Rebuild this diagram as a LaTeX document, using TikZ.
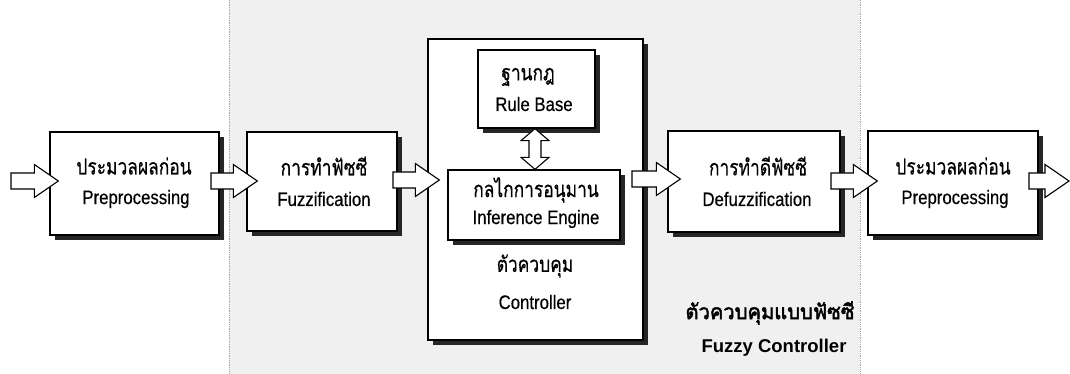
\documentclass[tikz,border=0pt]{standalone}
\usepackage{graphicx}
\usepackage{fontspec}
\setmainfont{Liberation Sans}
\newfontfamily\enf{Liberation Sans}[FakeBold=0.5]
\newfontfamily\thai[Script=Thai,FakeBold=0.5]{Loma}
\newfontfamily\thaib[Script=Thai,FakeBold=2.2]{Loma}
\newfontfamily\enb{Liberation Sans Bold}
\usetikzlibrary{calc,shadows}
\newcommand\thtxt[1]{\scalebox{0.79}[1]{\thai\fontsize{22}{25}\selectfont #1}}
\newcommand\entxt[1]{\scalebox{0.86}[1]{\enf\fontsize{19.5}{22}\selectfont #1}}
\tikzset{
  box/.style={draw=black, line width=1.3pt, fill=white, inner sep=0pt,
    drop shadow={shadow xshift=5pt, shadow yshift=-5pt, fill=black!85, opacity=1}},
  th/.style={inner sep=0pt},
  en/.style={inner sep=0pt},
  blockarrow/.style={draw=black, fill=white, line width=1.1pt, line join=miter,
    to path={let \p1=(\tikztostart), \p2=(\tikztotarget) in
      (\x1,\y1+8pt) -- (\x2-24pt,\y1+8pt) -- (\x2-24pt,\y1+16.5pt) -- (\x2,\y1)
      -- (\x2-24pt,\y1-16.5pt) -- (\x2-24pt,\y1-8pt) -- (\x1,\y1-8pt) -- cycle}},
  dblarrow/.style={draw=black, fill=white, line width=1.1pt, line join=miter,
    to path={let \p1=(\tikztostart), \p2=(\tikztotarget) in
      (\x1,\y1) -- (\x1+14pt,\y1-12pt) -- (\x1+6pt,\y1-12pt) -- (\x1+6pt,\y2+12pt)
      -- (\x1+14pt,\y2+12pt) -- (\x2,\y2) -- (\x1-14pt,\y2+12pt) -- (\x1-6pt,\y2+12pt)
      -- (\x1-6pt,\y1-12pt) -- (\x1-14pt,\y1-12pt) -- cycle}}
}
\begin{document}
\begin{tikzpicture}[x=1pt,y=-1pt]
\useasboundingbox (0,0) rectangle (1070,374);
% stippled background region
\fill[black!6] (229,0) rectangle (860,374);
\draw[black!35, densely dotted, line width=0.8pt] (229,0) -- (229,374);
\draw[black!35, densely dotted, line width=0.8pt] (860,0) -- (860,374);

% boxes
\node[box, minimum width=169pt, minimum height=103pt] (b1) at (134.5,183.5) {};
\node[box, minimum width=150pt, minimum height=99pt] (b2) at (322,181.5) {};
\node[box, minimum width=215pt, minimum height=301pt] (ctrl) at (535.5,189.5) {};
\node[box, minimum width=117pt, minimum height=78pt] (rule) at (536.5,89) {};
\node[box, minimum width=172pt, minimum height=70pt] (inf) at (534,205) {};
\node[box, minimum width=172pt, minimum height=101pt] (b4) at (754,181.5) {};
\node[box, minimum width=170pt, minimum height=104pt] (b5) at (953,183) {};

% texts
\node[th] (b1t) at (134,166) {\thtxt{ประมวลผลก่อน}};
\node[en] (b1e) at (136,199) {\entxt{Preprocessing}};
\node[th] (b2t) at (324,166) {\thtxt{การทำฟัซซี}};
\node[en] (b2e) at (324,199) {\entxt{Fuzzification}};
\node[th] (rt) at (528,77) {\thtxt{ฐานกฎ}};
\node[en] (re) at (534,104) {\entxt{Rule Base}};
\node[th] (it) at (536,190) {\thtxt{กลไกการอนุมาน}};
\node[en] (ie) at (536,219) {\entxt{Inference Engine}};
\node[th] (ct) at (535,266) {\thtxt{ตัวควบคุม}};
\node[en] (ce) at (535,302) {\entxt{Controller}};
\node[th] (b4t) at (758,166) {\thtxt{การทำดีฟัซซี}};
\node[en] (b4e) at (757,199) {\entxt{Defuzzification}};
\node[th] (b5t) at (953,166) {\thtxt{ประมวลผลก่อน}};
\node[en] (b5e) at (955,199) {\entxt{Preprocessing}};
\node[th] (ft) at (770,313) {\scalebox{0.96}[1]{\thaib\fontsize{21}{24}\selectfont ตัวควบคุมแบบฟัซซี}};
\node[en] (fe) at (774,348) {\enb\fontsize{18.5}{22}\selectfont Fuzzy Controller};

% block arrows
\coordinate (a0s) at (11,181);
\coordinate (a1s) at (211,181);
\coordinate (a2s) at (393,180);
\coordinate (a3s) at (632,179);
\coordinate (a4s) at (831,181);
\coordinate (a5s) at (1029,181);
\coordinate (outp) at (1069,181);
\draw[blockarrow] (a0s) to ($(b1.west)+(9pt,0)$);
\draw[blockarrow] (a1s) to ($(b2.west)+(11pt,0)$);
\draw[blockarrow] (a2s) to ($(ctrl.west)+(12pt,0)$);
\draw[blockarrow] (a3s) to ($(b4.west)+(13pt,0)$);
\draw[blockarrow] (a4s) to ($(b5.west)+(10pt,0)$);
\draw[blockarrow] (a5s) to (outp);
% double arrow between rule base and inference engine
\draw[dblarrow] ($(rule.south)+(-1.5pt,0)$) to ($(inf.north)+(1pt,0)$);
\end{tikzpicture}
\end{document}
